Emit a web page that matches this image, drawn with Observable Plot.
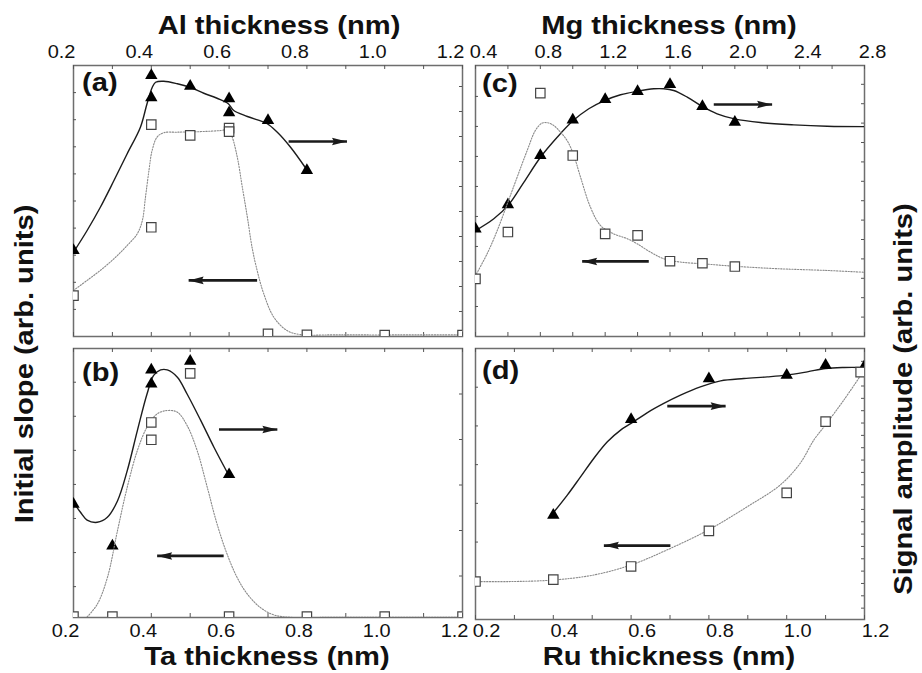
<!DOCTYPE html>
<html><head><meta charset="utf-8">
<script src="https://cdn.jsdelivr.net/npm/d3@7"></script>
<script src="https://cdn.jsdelivr.net/npm/@observablehq/plot@0.6"></script>
<style>
body{margin:0;background:#fff;}
#chart{position:relative;width:922px;height:673px;overflow:hidden;background:#fff;font-family:"Liberation Sans",Arial,Helvetica,sans-serif;color:#111;}
#chart svg{position:absolute;left:0;top:0;}
.t{position:absolute;font-weight:bold;font-size:26px;line-height:1;white-space:nowrap;}
</style></head><body><div id="chart"></div>
<script>
// ---------- data (arbitrary units) ----------
// (a) Al
const alThickTri = [0.2,0.4,0.4,0.5,0.6,0.6,0.7,0.8];
const alSignal   = [3.44,10.44,9.55,10.01,9.51,8.95,8.64,6.64];
const alThickSq  = [0.2,0.4,0.4,0.5,0.6,0.6,0.7,0.8,1.0,1.2];
const alSlope    = [1.51,7.82,4.03,7.42,7.69,7.56,0.1,0.06,0.05,0.05];
const alFitSignalX = [0.2,0.235,0.269,0.304,0.338,0.372,0.389,0.402,0.411,0.432,0.467,0.499,0.535,0.569,0.598,0.612,0.647,0.698,0.724,0.758,0.798];
const alFitSignalY = [3.37,4.24,5.17,6.24,7.31,8.37,9.31,9.95,10.17,10.21,10.11,9.97,9.73,9.53,9.31,9.04,8.8,8.51,8.17,7.57,6.71];
const alFitSlopeX = [0.2,0.235,0.269,0.304,0.338,0.364,0.377,0.385,0.394,0.402,0.415,0.432,0.467,0.526,0.578,0.599,0.608,0.621,0.634,0.647,0.659,0.672,0.689,0.715,0.749,0.784,0.869,1.2];
const alFitSlopeY = [1.70,2.07,2.44,2.87,3.36,3.79,4.28,5.14,6.13,6.86,7.36,7.52,7.54,7.56,7.60,7.63,7.36,6.62,5.51,4.40,3.29,2.44,1.58,0.71,0.22,0.07,0.06,0.06];
const alArrowSignal = [0.753,0.903,7.8];   // x1, x2, y (right axis)
const alArrowSlope  = [0.672,0.496,2.07];  // x1, x2, y (left axis)

// (b) Ta
const taThickTri = [0.2,0.3,0.4,0.4,0.5,0.6];
const taSignal   = [2.58,1.66,5.53,5.22,5.72,3.23];
const taThickSq  = [0.2,0.3,0.4,0.4,0.5,0.6,0.8,1.0,1.2];
const taSlope    = [0.12,0.12,5.82,5.31,7.26,0.12,0.12,0.12,0.12];
const taFitSignalX = [0.2,0.218,0.235,0.261,0.287,0.313,0.338,0.364,0.389,0.406,0.424,0.441,0.467,0.492,0.527,0.561,0.595];
const taFitSignalY = [2.62,2.40,2.23,2.18,2.29,2.65,3.31,4.19,5.0,5.41,5.53,5.53,5.37,5.0,4.42,3.83,3.28];
const taFitSlopeX = [0.235,0.261,0.287,0.313,0.338,0.364,0.389,0.415,0.441,0.467,0.492,0.518,0.544,0.569,0.595,0.621,0.647,0.681,0.715,0.758,0.869,1.2];
const taFitSlopeY = [0.11,0.48,1.26,2.64,3.91,4.99,5.68,6.07,6.17,6.12,5.73,4.99,3.91,2.84,1.95,1.26,0.78,0.38,0.17,0.1,0.1,0.1];
const taArrowSignal = [0.574,0.724,4.22];
const taArrowSlope  = [0.586,0.415,1.90];

// (c) Mg
const mgThick  = [0.4,0.6,0.8,1.0,1.2,1.4,1.6,1.8,2.0];
const mgSignal = [5.55,6.80,9.33,11.17,12.22,12.64,12.99,11.86,11.05];
const mgSlope  = [1.92,3.48,8.11,6.03,3.42,3.37,2.51,2.44,2.33];
const mgFitSignalX = [0.4,0.513,0.605,0.698,0.801,0.904,1.003,1.099,1.196,1.295,1.397,1.5,1.562,1.623,1.706,1.798,1.891,1.998,2.158,2.364,2.57,2.8];
const mgFitSignalY = [5.46,6.07,6.80,7.95,9.24,10.27,11.13,11.74,12.16,12.46,12.64,12.77,12.77,12.68,12.34,11.86,11.48,11.22,11.03,10.91,10.84,10.82];
const mgFitSlopeX = [0.406,0.472,0.534,0.596,0.657,0.719,0.77,0.811,0.846,0.883,0.924,0.965,1.003,1.048,1.109,1.171,1.253,1.336,1.397,1.48,1.562,1.664,1.808,1.998,2.261,2.57,2.8];
const mgFitSlopeY = [2.09,2.76,3.53,4.42,5.31,6.2,6.87,7.11,7.12,7.03,6.81,6.53,6.09,5.31,4.31,3.7,3.42,3.26,3.09,2.81,2.59,2.48,2.42,2.34,2.26,2.2,2.14];
const mgArrowSignal = [1.870,2.230,11.96];
const mgArrowSlope  = [1.469,1.058,2.5];

// (d) Ru
const ruThickTri = [0.4,0.6,0.8,1.0,1.1,1.2];
const ruSignal   = [8.54,16.29,19.60,19.88,20.69,20.61];
const ruThickSq  = [0.2,0.4,0.6,0.8,1.0,1.1,1.19];
const ruSlope    = [0.98,1.03,1.37,2.29,3.27,5.11,6.39];
const ruFitSignalX = [0.4,0.436,0.47,0.504,0.539,0.573,0.6,0.641,0.684,0.727,0.778,0.83,0.89,0.95,0.999,1.053,1.1,1.147,1.198];
const ruFitSignalY = [8.73,10.16,11.64,13.13,14.48,15.43,15.97,16.83,17.59,18.26,18.93,19.42,19.61,19.74,19.88,20.15,20.42,20.5,20.5];
const ruFitSlopeX = [0.2,0.29,0.4,0.504,0.6,0.693,0.798,0.898,0.984,1.035,1.07,1.1,1.147,1.194];
const ruFitSlopeY = [0.98,0.98,1.02,1.15,1.41,1.80,2.31,2.91,3.48,4.04,4.64,5.03,5.67,6.36];
const ruArrowSignal = [0.693,0.843,17.37];
const ruArrowSlope  = [0.701,0.53,1.91];

// tick values and tick labels
const ticks01  = [0.2,0.3,0.4,0.5,0.6,0.7,0.8,0.9,1.0,1.1,1.2];
const labels01 = [0.2,0.4,0.6,0.8,1.0,1.2];
const ticksMg  = [0.4,0.6,0.8,1.0,1.2,1.4,1.6,1.8,2.0,2.2,2.4,2.6,2.8];
const labelsMg = [0.4,0.8,1.2,1.6,2.0,2.4,2.8];
const yTicksALeft  = [1,2,3,4,5,6,7,8,9];
const yTicksARight = [1,2,3,4,5,6,7,8,9,10];
const yTicksBLeft  = [1,2,3,4,5,6,7];
const yTicksBRight = [1,2,3,4,5];
const yTicksCLeft  = [1,2,3,4,5,6,7,8];
const yTicksCRight = [1,2,3,4,5,6,7,8,9,10,11,12,13];
const yTicksDLeft  = [1,2,3,4,5,6];
const yTicksDRight = [1,2,3,4,5,6,7,8,9,10,11,12,13,14,15,16,17,18,19,20,21];

const xTitles = ["Al thickness (nm)","Ta thickness (nm)","Mg thickness (nm)","Ru thickness (nm)"];
const yTitleLeft = "Initial slope (arb. units)";
const yTitleRight = "Signal amplitude (arb. units)";
const panelTags = ["(a)","(b)","(c)","(d)"];

// ---------- drawing ----------
const W = 922, H = 673;
const FONT = '"Liberation Sans", Arial, Helvetica, sans-serif';
const zipXY = (xs, ys) => xs.map((x, i) => ({x, y: ys[i]}));

const panels = [
  {geo:{left:73,right:462,top:65,bottom:336}, xDomain:[0.2,1.2], xTicks:ticks01, xLabels:labels01, anchor:"top", dx:-12, pad:8,
   yL:[0,10], yR:[0,10.84], tL:yTicksALeft, tR:yTicksARight,
   tri:zipXY(alThickTri,alSignal), sq:zipXY(alThickSq,alSlope), fitS:zipXY(alFitSignalX,alFitSignalY), fitL:zipXY(alFitSlopeX,alFitSlopeY),
   arS:alArrowSignal, arL:alArrowSlope},
  {geo:{left:73,right:462,top:348,bottom:617}, xDomain:[0.2,1.2], xTicks:ticks01, xLabels:labels01, anchor:"bottom", dx:-8, pad:7,
   yL:[0.094,7.99], yR:[0.088,6.0], tL:yTicksBLeft, tR:yTicksBRight,
   tri:zipXY(taThickTri,taSignal), sq:zipXY(taThickSq,taSlope), fitS:zipXY(taFitSignalX,taFitSignalY), fitL:zipXY(taFitSlopeX,taFitSlopeY),
   arS:taArrowSignal, arL:taArrowSlope},
  {geo:{left:475,right:864,top:65,bottom:336}, xDomain:[0.4,2.8], xTicks:ticksMg, xLabels:labelsMg, anchor:"top", dx:8, pad:8,
   yL:[0,9.03], yR:[0,13.97], tL:yTicksCLeft, tR:yTicksCRight,
   tri:zipXY(mgThick,mgSignal), sq:zipXY(mgThick,mgSlope), fitS:zipXY(mgFitSignalX,mgFitSignalY), fitL:zipXY(mgFitSlopeX,mgFitSlopeY),
   arS:mgArrowSignal, arL:mgArrowSlope},
  {geo:{left:475,right:864,top:348,bottom:619}, xDomain:[0.2,1.2], xTicks:ticks01, xLabels:labels01, anchor:"bottom", dx:11, pad:5,
   yL:[0,7.0], yR:[0.08,22.04], tL:yTicksDLeft, tR:yTicksDRight,
   tri:zipXY(ruThickTri,ruSignal), sq:zipXY(ruThickSq,ruSlope), fitS:zipXY(ruFitSignalX,ruFitSignalY), fitL:zipXY(ruFitSlopeX,ruFitSlopeY),
   arS:ruArrowSignal, arL:ruArrowSlope}
];

const chart = document.getElementById("chart");
const TICK = "#555";
const INK = "#1a1a1a";
// filled, slender arrowhead with its tip at the origin, pointing right
const arrowHead = {draw(ctx) { ctx.moveTo(0, 0); ctx.lineTo(-15, -3.8); ctx.lineTo(-13, 0); ctx.lineTo(-15, 3.8); ctx.closePath(); }};

function arrowMarks(a) {
  const dir = a[1] > a[0] ? 0 : 180;
  return [
    Plot.link([a], {x1:d=>d[0], x2:d=>d[1], y1:d=>d[2], y2:d=>d[2], stroke:INK, strokeWidth:2.7}),
    Plot.dot([a], {x:d=>d[1], y:d=>d[2], symbol:arrowHead, rotate:dir, fill:INK, stroke:"none"})
  ];
}

function base(g) {
  return {width:W, height:H, marginLeft:g.left, marginRight:W-g.right, marginTop:g.top, marginBottom:H-g.bottom,
    style:{background:"transparent", overflow:"visible", fontFamily:FONT, fontSize:"18px", color:"#111"}};
}

function scaleLabels(svg) {
  svg.querySelectorAll('g[aria-label="x-axis tick label"] text').forEach(t => {
    const tr = t.getAttribute("transform");
    if (tr && tr.includes("translate")) t.setAttribute("transform", tr + " scale(1.11,1)");
  });
}

for (const p of panels) {
  const g = p.geo, iw = g.right - g.left, ih = g.bottom - g.top;
  // layer 1: right axis (signal amplitude, triangles), frame, x axis
  const s1 = Plot.plot({...base(g),
    x:{domain:p.xDomain}, y:{domain:p.yR, axis:null},
    marks:[
      Plot.frame({stroke:"#6e6e6e", strokeWidth:1.5}),
      Plot.tickX(p.xTicks, {x:d=>d, insetTop:ih-4, stroke:TICK}),
      Plot.tickX(p.xTicks, {x:d=>d, insetBottom:ih-4, stroke:TICK}),
      Plot.tickY(p.tR, {y:d=>d, insetLeft:iw-3, stroke:TICK}),
      Plot.axisX({ticks:p.xLabels, anchor:p.anchor, label:null, tickSize:0, tickPadding:p.pad, dx:p.dx,
        tickFormat:d=>d.toFixed(1), fontSize:18, fontFamily:FONT, fill:"#111"}),
      Plot.line(p.fitS, {x:"x", y:"y", curve:"catmull-rom", stroke:"#1c1c1c", strokeWidth:1.4, clip:true}),
      ...arrowMarks(p.arS),
      Plot.dot(p.tri, {x:"x", y:"y", symbol:"triangle", r:4.6, fill:"#000", stroke:"none", clip:true})
    ]});
  scaleLabels(s1);
  chart.appendChild(s1);
  // layer 2: left axis (initial slope, squares)
  const s2 = Plot.plot({...base(g),
    x:{domain:p.xDomain, axis:null}, y:{domain:p.yL, axis:null},
    marks:[
      Plot.tickY(p.tL, {y:d=>d, insetRight:iw-3, stroke:TICK}),
      Plot.line(p.fitL, {x:"x", y:"y", curve:"catmull-rom", stroke:"#8a8a8a", strokeWidth:1.1, strokeDasharray:"1.3,1.5", clip:true}),
      ...arrowMarks(p.arL),
      Plot.dot(p.sq, {x:"x", y:"y", symbol:"square", r:5.3, fill:"#fff", stroke:"#444", strokeWidth:1.2, clip:true})
    ]});
  chart.appendChild(s2);
}

// ---------- text ----------
function addText(txt, cx, cy, rotate) {
  const d = document.createElement("div");
  d.className = "t";
  d.textContent = txt;
  d.style.left = cx + "px";
  d.style.top = cy + "px";
  d.style.transform = "translate(-50%,-50%)" + (rotate ? " rotate(-90deg)" : "") + " scaleX(1.12)";
  chart.appendChild(d);
}
function addTag(txt, left, top) {
  const d = document.createElement("div");
  d.className = "t";
  d.textContent = txt;
  d.style.left = left + "px";
  d.style.top = top + "px";
  d.style.transformOrigin = "left top";
  d.style.transform = "scaleX(1.12)";
  chart.appendChild(d);
}
addText(xTitles[0], 279, 24.5);
addText(xTitles[1], 267, 656);
addText(xTitles[2], 669, 24.5);
addText(xTitles[3], 669, 656);
addText(yTitleLeft, 23.5, 363.5, true);
addText(yTitleRight, 902.5, 398.5, true);
addTag(panelTags[0], 82, 69);
addTag(panelTags[1], 82, 359);
addTag(panelTags[2], 482, 70);
addTag(panelTags[3], 482, 357);
</script></body></html>
